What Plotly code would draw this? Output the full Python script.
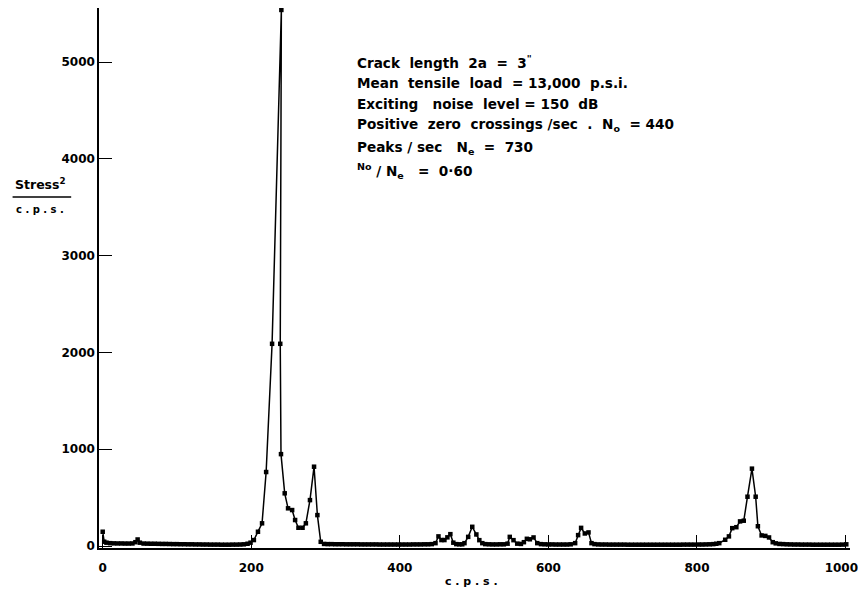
import plotly.graph_objects as go

# ---- data (cps vs Stress^2/cps) ----
low_cps = [0, 2, 5, 10, 15, 20, 25, 30, 35, 40, 44, 47, 50, 55, 60, 65, 70, 75, 80, 85, 90,
           95, 100, 105, 110, 115, 120, 125, 130, 135, 140, 145, 150, 155, 160, 165, 170,
           175, 180, 185, 190, 195, 199]
low_val = [148, 45, 35, 30, 28, 27, 27, 26, 26, 27, 40, 68, 35, 26, 25, 24, 24, 23, 22, 22, 21,
           20, 20, 19, 19, 18, 18, 17, 17, 16, 16, 15, 15, 15, 14, 14, 14,
           15, 15, 16, 18, 24, 35]

peak1_cps = [203.5, 209, 214.5, 220, 228, 240.5, 239, 240, 245, 249.5, 255, 259, 263.5, 269,
             273.5, 279, 284.5, 289, 293.5, 298]
peak1_val = [62, 148, 235, 765, 2090, 5540, 2090, 950, 545, 390, 372, 269, 189, 189,
             235, 475, 820, 320, 44, 22]

mid_cps = [303, 308, 313, 318, 323, 328, 333, 338, 343, 348, 353, 358, 363, 368, 373, 378,
           383, 388, 393, 398, 403, 408, 413, 418, 423, 428, 433, 438, 443]
mid_val = [20, 20, 19, 19, 19, 18, 18, 18, 18, 17, 17, 17, 17, 17, 16, 16,
           16, 16, 16, 16, 16, 16, 16, 17, 17, 17, 18, 18, 20]

bumps_cps = [448, 452, 456, 460, 464, 468, 472, 476, 480, 484, 487, 492, 497.5, 503, 507, 511,
             515, 520, 525, 530, 535, 540, 545, 548, 553, 558, 563, 567, 571, 575, 580, 585,
             590, 595, 600, 605, 610, 615, 620, 625, 630, 636, 640, 644, 649, 654, 658, 662]
bumps_val = [30, 100, 62, 62, 90, 123, 35, 20, 18, 18, 30, 95, 199, 120, 61, 30,
             20, 18, 17, 17, 18, 18, 25, 95, 61, 25, 22, 40, 75, 70, 89, 30,
             20, 18, 17, 17, 16, 16, 16, 16, 18, 30, 113, 188, 130, 141, 30, 20]

tail1_cps = [667, 672, 677, 682, 687, 692, 697, 702, 707, 712, 717, 722, 727, 732, 737, 742,
             747, 752, 757, 762, 767, 772, 777, 782, 787, 792, 797, 802, 807, 812, 817, 822, 826]
tail1_val = [17, 16, 16, 15, 15, 15, 15, 15, 14, 14, 14, 14, 14, 14, 14, 14,
             14, 14, 14, 14, 14, 14, 14, 15, 15, 15, 15, 16, 16, 17, 18, 20, 24]

peak3_cps = [830, 838, 843, 847.5, 853, 858, 863, 868, 874, 879, 882, 887, 892, 897, 902, 906]
peak3_val = [30, 65, 100, 185, 195, 255, 262, 510, 800, 510, 205, 110, 105, 89, 40, 28]

tail2_cps = [911, 916, 921, 926, 931, 936, 941, 946, 951, 956, 961, 966, 971, 976, 981, 986,
             991, 996, 1001]
tail2_val = [22, 20, 18, 17, 16, 16, 15, 15, 15, 14, 14, 14, 14, 14, 14, 14,
             14, 15, 18]

x_ticks = [0, 200, 400, 600, 800, 1000]
x_tick_labels = ["0", "200", "400", "600", "800", "1000\u00a0\u00a0"]
y_ticks = [0, 1000, 2000, 3000, 4000, 5000]
y_tick_labels = ["0", "1000", "2000", "3000", "4000", "5000"]

info_lines = [
    "Crack  length  2a  =  3<sup>\"</sup>",
    "Mean  tensile  load  = 13,000  p.s.i.",
    "Exciting   noise  level = 150  dB",
    "Positive  zero  crossings /sec  .  N<sub>o</sub>  = 440",
    "Peaks / sec   N<sub>e</sub>  =  730",
    "<sup>No</sup> / N<sub>e</sub>   =  0·60",
]

cps = low_cps + peak1_cps + mid_cps + bumps_cps + tail1_cps + peak3_cps + tail2_cps
val = low_val + peak1_val + mid_val + bumps_val + tail1_val + peak3_val + tail2_val

# ---- layout geometry (page pixels; the page body has an 8px margin) ----
BODY = 8
W, H = 866 - BODY, 593 - BODY
PL, PR, PT, PB = 99, 855, 8, 548          # plot area in page pixels
ML, MR = PL - BODY, (866 - PR)
MT, MB = PT - BODY, (593 - PB)
PW, PH = PR - PL, PB - PT


def px(xp):
    return (xp - PL) / PW


def py(yp):
    return (PB - yp) / PH


FONT = "DejaVu Sans"

fig = go.Figure()
fig.add_trace(go.Scatter(
    x=cps, y=val, mode="lines+markers",
    line=dict(color="black", width=1.5),
    marker=dict(symbol="square", size=4.5, color="black"),
    showlegend=False, cliponaxis=False,
))

annotations = []
line_y = [62, 83, 104, 125, 148, 171]
for txt, yy in zip(info_lines, line_y):
    annotations.append(dict(
        text=txt, xref="paper", yref="paper", x=px(357), y=py(yy),
        xanchor="left", yanchor="middle", showarrow=False,
        font=dict(family=FONT, size=13.6, color="black", weight="bold"),
    ))

# y-axis title as a fraction
annotations.append(dict(
    text="Stress<sup>2</sup>", xref="paper", yref="paper", x=px(40), y=py(184),
    xanchor="center", yanchor="middle", showarrow=False,
    font=dict(family=FONT, size=12.5, color="black", weight="bold"),
))
annotations.append(dict(
    text="c . p . s .", xref="paper", yref="paper", x=px(40), y=py(209),
    xanchor="center", yanchor="middle", showarrow=False,
    font=dict(family=FONT, size=10, color="black", weight="bold"),
))
# x-axis title
annotations.append(dict(
    text="c . p . s .", xref="paper", yref="paper", x=px(474), y=py(581),
    xanchor="center", yanchor="middle", showarrow=False,
    font=dict(family=FONT, size=11, color="black", weight="bold"),
))

shapes = [dict(
    type="line", xref="paper", yref="paper",
    x0=px(12), x1=px(71), y0=py(197), y1=py(197),
    line=dict(color="black", width=1.5),
)]

fig.update_layout(
    width=W, height=H,
    margin=dict(l=ML, r=MR, t=MT, b=MB, pad=0),
    paper_bgcolor="white", plot_bgcolor="white",
    font=dict(family=FONT, size=12, color="black"),
    annotations=annotations, shapes=shapes,
    xaxis=dict(
        range=[-5, 1006], tickvals=x_ticks, ticktext=x_tick_labels,
        ticks="inside", ticklen=13, tickwidth=1.3, tickcolor="black",
        showline=True, linecolor="black", linewidth=1.5,
        showgrid=False, zeroline=False, ticklabelstandoff=8,
        ticklabeloverflow="allow",
        tickfont=dict(family=FONT, size=12, color="black", weight="bold"),
    ),
    yaxis=dict(
        range=[-20, 5560], tickvals=y_ticks, ticktext=y_tick_labels,
        ticks="inside", ticklen=13, tickwidth=1.3, tickcolor="black",
        showline=True, linecolor="black", linewidth=1.5,
        showgrid=False, zeroline=False, ticklabeloverflow="allow",
        tickfont=dict(family=FONT, size=12, color="black", weight="bold"),
    ),
)

fig.write_html("out.html")
